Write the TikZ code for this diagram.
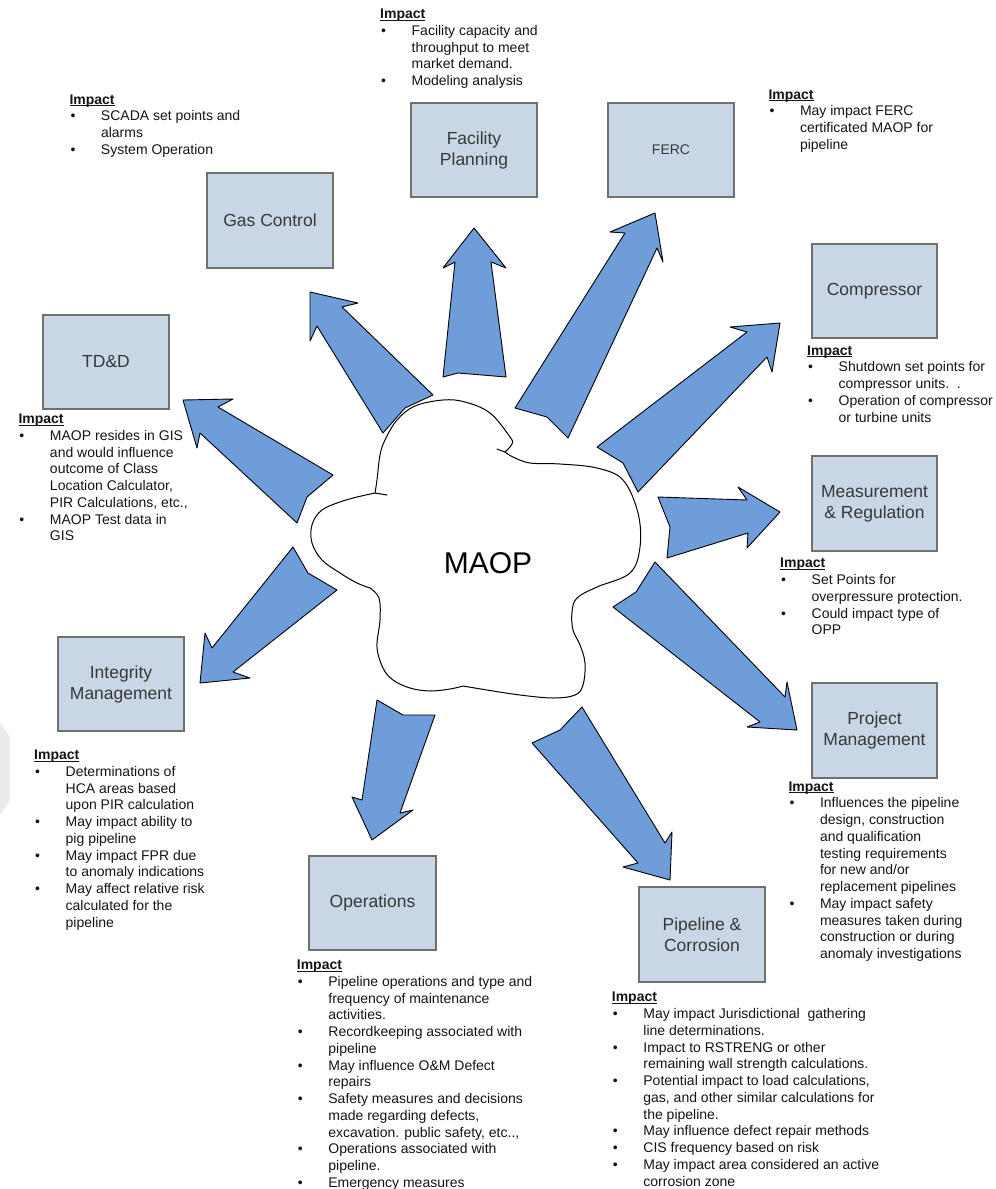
\documentclass[tikz,border=0pt]{standalone}
\usepackage{fontspec}
\setmainfont{Liberation Sans}
\usepackage{array}
\definecolor{arrowfill}{HTML}{6E9DD9}
\definecolor{boxfill}{HTML}{C8D6E6}
\definecolor{boxline}{HTML}{707070}
\definecolor{boxtext}{HTML}{383838}
\definecolor{impacttext}{HTML}{141414}
\definecolor{watermark}{HTML}{EBEBEB}
\newcommand{\impbul}{\hspace*{1pt}\textbullet}
\newcommand{\impword}{\setbox0\hbox{\textbf{Impact}}\rlap{\rule[-2.2pt]{\wd0}{1pt}}\box0}
\newcommand{\imphead}{\multicolumn{2}{@{}l@{}}{\impword}}
\begin{document}
\begin{tikzpicture}[x=1pt,y=-1pt,
  unit/.style={draw=boxline, fill=boxfill, line width=1.4pt, minimum width=126pt,
    minimum height=94pt, inner sep=0pt, align=center, text=boxtext,
    font=\fontsize{17.5}{21}\selectfont},
  impact/.style={anchor=north west, inner sep=0pt, text=impacttext, align=left,
    font=\fontsize{14}{16.75}\selectfont},
  blockarrow/.style={fill=arrowfill, draw=black, line width=0.9pt, line join=round},
  cloudline/.style={draw=black, line width=1pt, line cap=round}]

\useasboundingbox (0,0) rectangle (996,1189);

% faint page mark at the left edge
\fill[watermark] (0,722) -- (10,737) -- (10,800) -- (0,815) -- cycle;

% ---- central cloud ----
\draw[cloudline]
  plot[smooth, tension=0.6] coordinates {(505,452) (512,444) (510,437) (490,413) (465,402) (443,400) (415,406) (397,420) (385,440) (380,455) (377,480) (375,493)}
  -- plot[smooth, tension=0.6] coordinates {(375,493) (346,500) (322,510) (312,525) (312,543) (322,560) (340,573) (357,583) (370,588)}
  -- plot[smooth, tension=0.6] coordinates {(370,588) (379,598) (380,620) (377,647) (383,668) (393,680) (410,688) (430,691) (450,689) (463,686)}
  -- plot[smooth, tension=0.6] coordinates {(463,686) (487,690) (520,695) (553,698) (575,695) (583,685) (585,663) (580,645) (573,630) (572,612) (577,598) (597,587) (630,573) (640,547) (638,513) (623,480) (597,468) (560,464) (530,463) (513,457) (505,452)};
\draw[cloudline] (505,452) -- (497,449);
\draw[cloudline] (375,493) -- (387,495);
\node[font=\fontsize{30}{36}\selectfont, text=black] (maop) at (488,563) {MAOP};

% ---- block arrows radiating from the cloud ----
% Gas Control
\filldraw[blockarrow] (383,433) -- (317,326) -- (310,341) -- (310,292) -- (358,303) -- (342,307) -- (433,395) -- (405,408) -- cycle;
% Facility Planning
\filldraw[blockarrow] (443,377) -- (455,262) -- (443,268) -- (474,228) -- (506,268) -- (491,262) -- (506,377) -- (458,373) -- cycle;
% FERC
\filldraw[blockarrow] (515,408) -- (625,233) -- (610,232) -- (655,213) -- (663,262) -- (657,248) -- (568,438) -- (547,417) -- cycle;
% Compressor
\filldraw[blockarrow] (597,447) -- (747,332) -- (730,327) -- (780,323) -- (772,372) -- (767,357) -- (638,492) -- (623,463) -- cycle;
% Measurement & Regulation
\filldraw[blockarrow] (658,497) -- (747,500) -- (738,487) -- (780,512) -- (747,548) -- (748,533) -- (667,558) -- (670,527) -- cycle;
% Project Management
\filldraw[blockarrow] (655,562) -- (785,697) -- (787,682) -- (797,730) -- (747,727) -- (760,722) -- (613,607) -- (636,592) -- cycle;
% Pipeline & Corrosion
\filldraw[blockarrow] (582,707) -- (665,843) -- (672,832) -- (670,880) -- (623,867) -- (638,863) -- (532,743) -- (560,730) -- cycle;
% Operations
\filldraw[blockarrow] (377,700) -- (362,800) -- (352,797) -- (372,840) -- (413,810) -- (400,813) -- (435,715) -- (403,715) -- cycle;
% Integrity Management
\filldraw[blockarrow] (293,547) -- (212,648) -- (205,633) -- (200,683) -- (250,678) -- (233,672) -- (337,590) -- (308,573) -- cycle;
% TD&D
\filldraw[blockarrow] (333,475) -- (218,407) -- (233,399) -- (183,400) -- (197,448) -- (200,433) -- (297,523) -- (307,497) -- cycle;

% ---- departments ----
\node[unit] (fac)  at (474,150)   {Facility\\Planning};
\node[unit, font=\fontsize{14}{17}\selectfont] (ferc) at (671,150) {FERC};
\node[unit, minimum height=95pt] (gas)  at (270,220.5) {Gas Control};
\node[unit, minimum width=125pt] (comp) at (874.5,291) {Compressor};
\node[unit] (tdd)  at (106,362)   {TD\&D};
\node[unit, minimum width=125pt, minimum height=95pt] (meas) at (874.5,503.5) {Measurement\\\& Regulation};
\node[unit] (integ) at (121,684)  {Integrity\\Management};
\node[unit, minimum width=125pt, minimum height=95pt] (proj) at (874.5,730.5) {Project\\Management};
\node[unit, minimum height=95pt] (pipe) at (702,934.5) {Pipeline \&\\Corrosion};
\node[unit, minimum width=127pt] (ops)  at (372.5,903) {Operations};

% ---- impact notes ----
\node[impact] (facNote) at (380,6.7) {\begin{tabular}{@{}p{31.5pt}@{}l@{}}
\imphead\\
\impbul & Facility capacity and\\
 & throughput to meet\\
 & market demand.\\
\impbul & Modeling analysis
\end{tabular}};

\node[impact] (gasNote) at (69.3,92.3) {\begin{tabular}{@{}p{31.5pt}@{}l@{}}
\imphead\\
\impbul & SCADA set points and\\
 & alarms\\
\impbul & System Operation
\end{tabular}};

\node[impact] (fercNote) at (768.3,87.3) {\begin{tabular}{@{}p{31.5pt}@{}l@{}}
\imphead\\
\impbul & May impact\ FERC\\
 & certificated MAOP for\\
 & pipeline
\end{tabular}};

\node[impact] (compNote) at (807,343.3) {\begin{tabular}{@{}p{31.5pt}@{}l@{}}
\imphead\\
\impbul & Shutdown set points for\\
 & compressor units.\ \ .\\
\impbul & Operation of compressor\\
 & or turbine units
\end{tabular}};

\node[impact] (tddNote) at (18.3,411.7) {\begin{tabular}{@{}p{31.5pt}@{}l@{}}
\imphead\\
\impbul & MAOP resides in GIS\\
 & and would influence\\
 & outcome of Class\\
 & Location Calculator,\\
 & PIR Calculations, etc.,\\
\impbul & MAOP Test data in\\
 & GIS
\end{tabular}};

\node[impact] (measNote) at (780,556) {\begin{tabular}{@{}p{31.5pt}@{}l@{}}
\imphead\\
\impbul & Set Points for\\
 & overpressure protection.\\
\impbul & Could impact type of\\
 & OPP
\end{tabular}};

\node[impact] (integNote) at (34,747.7) {\begin{tabular}{@{}p{31.5pt}@{}l@{}}
\imphead\\
\impbul & Determinations of\\
 & HCA areas based\\
 & upon PIR calculation\\
\impbul & May impact ability to\\
 & pig pipeline\\
\impbul & May impact FPR due\\
 & to anomaly indications\\
\impbul & May affect relative risk\\
 & calculated for the\\
 & pipeline
\end{tabular}};

\node[impact] (projNote) at (788.3,779.3) {\begin{tabular}{@{}p{31.5pt}@{}l@{}}
\imphead\\
\impbul & Influences the pipeline\\
 & design, construction\\
 & and qualification\\
 & testing requirements\\
 & for new and/or\\
 & replacement pipelines\\
\impbul & May impact safety\\
 & measures taken during\\
 & construction or during\\
 & anomaly investigations
\end{tabular}};

\node[impact] (opsNote) at (296.7,957.7) {\begin{tabular}{@{}p{31.5pt}@{}l@{}}
\imphead\\
\impbul & Pipeline operations and type and\\
 & frequency of maintenance\\
 & activities.\\
\impbul & Recordkeeping associated with\\
 & pipeline\\
\impbul & May influence O\&M Defect\\
 & repairs\\
\impbul & Safety measures and decisions\\
 & made regarding defects,\\
 & excavation. public safety, etc..,\\
\impbul & Operations associated with\\
 & pipeline.\\
\impbul & Emergency measures
\end{tabular}};

\node[impact] (pipeNote) at (611.7,990) {\begin{tabular}{@{}p{31.5pt}@{}l@{}}
\imphead\\
\impbul & May impact Jurisdictional\ \ gathering\\
 & line determinations.\\
\impbul & Impact to RSTRENG or other\\
 & remaining wall strength calculations.\\
\impbul & Potential impact to load calculations,\\
 & gas, and other similar calculations for\\
 & the pipeline.\\
\impbul & May influence defect repair methods\\
\impbul & CIS frequency based on risk\\
\impbul & May impact area considered an active\\
 & corrosion zone
\end{tabular}};

\end{tikzpicture}
\end{document}
